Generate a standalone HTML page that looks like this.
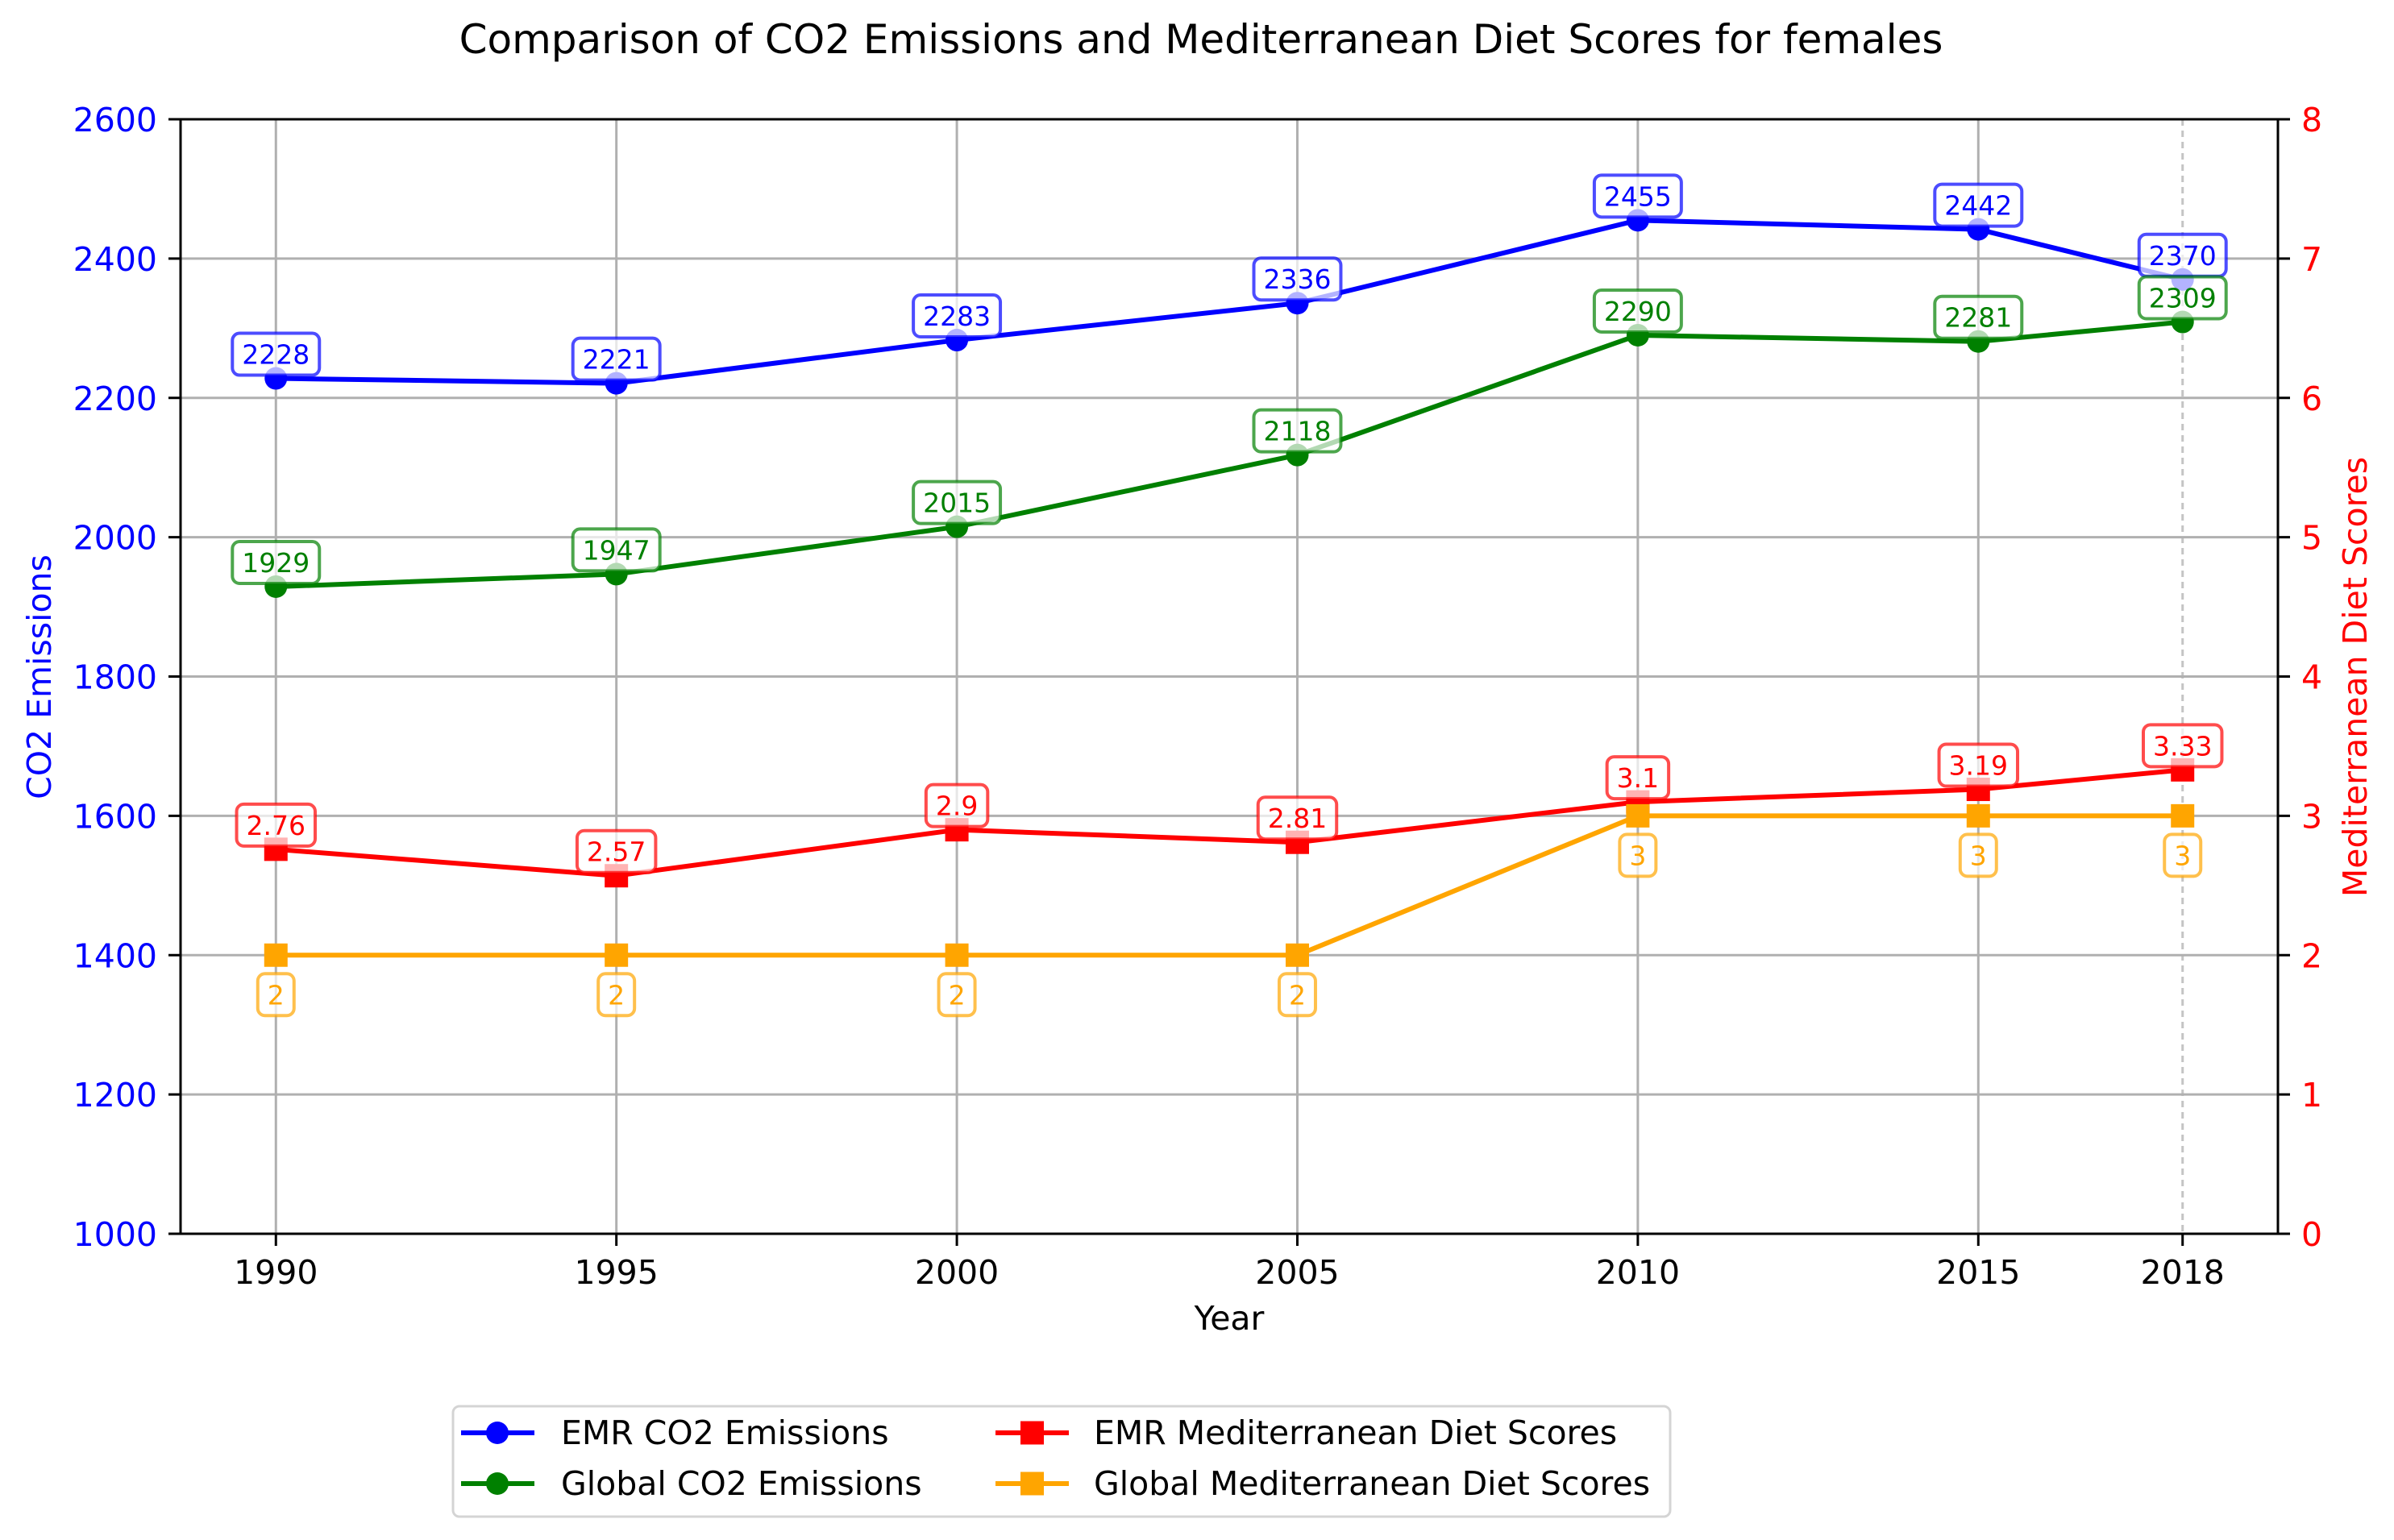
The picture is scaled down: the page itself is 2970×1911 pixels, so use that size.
<!DOCTYPE html>
<html><head><meta charset="utf-8"><style>
html,body{margin:0;padding:0;background:#fff}
svg{display:block}
text{font-family:"DejaVu Sans","Liberation Sans",sans-serif}
</style></head><body>
<svg id="chart" width="2970" height="1911" viewBox="0 0 2970 1911" xmlns="http://www.w3.org/2000/svg"></svg>
<script>
const years = [1990, 1995, 2000, 2005, 2010, 2015, 2018];
const emrCO2 = [2228, 2221, 2283, 2336, 2455, 2442, 2370];
const globalCO2 = [1929, 1947, 2015, 2118, 2290, 2281, 2309];
const emrDiet = [2.76, 2.57, 2.9, 2.81, 3.1, 3.19, 3.33];
const globalDiet = [2, 2, 2, 2, 3, 3, 3];
const leftTicks = [1000, 1200, 1400, 1600, 1800, 2000, 2200, 2400, 2600];
const rightTicks = [0, 1, 2, 3, 4, 5, 6, 7, 8];

const NS = "http://www.w3.org/2000/svg";
const svg = document.getElementById('chart');
const L = 224, R = 2826, T = 148, B = 1531;
const xMin = 1988.6, xMax = 2019.4;
const x = v => L + (v - xMin) / (xMax - xMin) * (R - L);
const yL = v => B - (v - 1000) / 1600 * (B - T);
const yR = v => B - v / 8 * (B - T);

function mk(tag, attrs, parent) {
  const e = document.createElementNS(NS, tag);
  for (const k in attrs) e.setAttribute(k, attrs[k]);
  (parent || svg).appendChild(e);
  return e;
}
function txt(s, attrs, parent) { const e = mk('text', attrs, parent); e.textContent = s; return e; }

// grid
const grid = mk('g', {});


years.forEach(yr => {
  const g = mk('line', {x1: x(yr), x2: x(yr), y1: T, y2: B, stroke: '#b0b0b0', 'stroke-width': 3}, grid);
  if (yr === 2018) { g.setAttribute('stroke-dasharray', '8 6'); g.setAttribute('stroke', '#c4c4c4'); }
  
  
});
leftTicks.forEach(v => {
  const g = mk('line', {x1: L, x2: R, y1: yL(v), y2: yL(v), stroke: '#b0b0b0', 'stroke-width': 3}, grid);
  
  
});

// series
function series(vals, yf, color, marker, name) {
  const g = mk('g', {});
  
  
  const pts = vals.map((v, i) => x(years[i]) + ',' + yf(v)).join(' ');
  const pl = mk('polyline', {points: pts, fill: 'none', stroke: color, 'stroke-width': 6, 'stroke-linejoin': 'round'}, g);
  
  
  vals.forEach((v, i) => {
    let m;
    if (marker === 'o') m = mk('circle', {cx: x(years[i]), cy: yf(v), r: 14, fill: color}, g);
    else m = mk('rect', {x: x(years[i]) - 14.5, y: yf(v) - 14.5, width: 29, height: 29, fill: color}, g);
    
    
  });
}
series(emrCO2, yL, '#0000ff', 'o', 'emr-co2');
series(globalCO2, yL, '#008000', 'o', 'global-co2');
series(emrDiet, yR, '#ff0000', 's', 'emr-diet');
series(globalDiet, yR, '#ffa500', 's', 'global-diet');

// annotations
function charW(s) { let w = 0; for (const c of s) w += (c === '.') ? 0.318 : 0.636; return w; }
function annot(vals, yf, color, below, name) {
  vals.forEach((v, i) => {
    const s = String(v);
    const cx = x(years[i]);
    const cy = below ? yf(v) + 49 : yf(v) - 30;
    const w = charW(s) * 33 + 24, h = 52;
    const g = mk('g', {});
    
    
    mk('rect', {x: cx - w / 2, y: cy - h / 2, width: w, height: h, rx: 9, fill: 'rgba(255,255,255,0.7)', stroke: color, 'stroke-opacity': 0.7, 'stroke-width': 4}, g);
    txt(s, {x: cx, y: cy + 12, 'font-size': 33, fill: color, 'text-anchor': 'middle'}, g);
  });
}
annot(emrCO2, yL, '#0000ff', false, 'emr-co2');
annot(globalCO2, yL, '#008000', false, 'global-co2');
annot(emrDiet, yR, '#ff0000', false, 'emr-diet');
annot(globalDiet, yR, '#ffa500', true, 'global-diet');

// axes
const ax = mk('g', {});


mk('rect', {x: L, y: T, width: R - L, height: B - T, fill: 'none', stroke: '#000', 'stroke-width': 3}, ax);
leftTicks.forEach(v => {
  mk('line', {x1: L - 15, x2: L, y1: yL(v), y2: yL(v), stroke: '#000', 'stroke-width': 3}, ax);
  const t = txt(String(v), {x: L - 29, y: yL(v) + 15, 'font-size': 41, fill: '#0000ff', 'text-anchor': 'end'}, ax);
  
  
});
rightTicks.forEach(v => {
  mk('line', {x1: R, x2: R + 15, y1: yR(v), y2: yR(v), stroke: '#000', 'stroke-width': 3}, ax);
  const t = txt(String(v), {x: R + 29, y: yR(v) + 15, 'font-size': 41, fill: '#ff0000'}, ax);
  
  
});
years.forEach(yr => {
  mk('line', {x1: x(yr), x2: x(yr), y1: B, y2: B + 15, stroke: '#000', 'stroke-width': 3}, ax);
  const t = txt(String(yr), {x: x(yr), y: B + 62, 'font-size': 41, fill: '#000', 'text-anchor': 'middle'}, ax);
  
  
});
</script>
<svg style="position:absolute;left:0;top:0" width="2970" height="1911">
  <text x="1490" y="66" font-size="50" text-anchor="middle" fill="#000" font-family="DejaVu Sans, Liberation Sans, sans-serif">Comparison of CO2 Emissions and Mediterranean Diet Scores for females</text>
  <text x="1525" y="1650" font-size="41" text-anchor="middle" fill="#000" font-family="DejaVu Sans, Liberation Sans, sans-serif">Year</text>
  <text transform="translate(63,840) rotate(-90)" font-size="41" text-anchor="middle" fill="#0000ff" font-family="DejaVu Sans, Liberation Sans, sans-serif">CO2 Emissions</text>
  <text transform="translate(2936,840) rotate(-90)" font-size="41" text-anchor="middle" fill="#ff0000" font-family="DejaVu Sans, Liberation Sans, sans-serif">Mediterranean Diet Scores</text>
  <g font-family="DejaVu Sans, Liberation Sans, sans-serif" font-size="41">
    <rect x="562" y="1745" width="1510" height="137" rx="8" fill="#fff" stroke="#d4d4d4" stroke-width="3"/>
    <g>
      <line x1="572" x2="663" y1="1778" y2="1778" stroke="#0000ff" stroke-width="6"/><circle cx="617" cy="1778" r="14" fill="#0000ff"/>
      <text x="696" y="1792">EMR CO2 Emissions</text></g>
    <g>
      <line x1="572" x2="663" y1="1841" y2="1841" stroke="#008000" stroke-width="6"/><circle cx="617" cy="1841" r="14" fill="#008000"/>
      <text x="696" y="1855">Global CO2 Emissions</text></g>
    <g>
      <line x1="1235" x2="1326" y1="1778" y2="1778" stroke="#ff0000" stroke-width="6"/><rect x="1266" y="1763.5" width="29" height="29" fill="#ff0000"/>
      <text x="1357" y="1792">EMR Mediterranean Diet Scores</text></g>
    <g>
      <line x1="1235" x2="1326" y1="1841" y2="1841" stroke="#ffa500" stroke-width="6"/><rect x="1266" y="1826.5" width="29" height="29" fill="#ffa500"/>
      <text x="1357" y="1855">Global Mediterranean Diet Scores</text></g>
  </g>
</svg>
</body></html>
